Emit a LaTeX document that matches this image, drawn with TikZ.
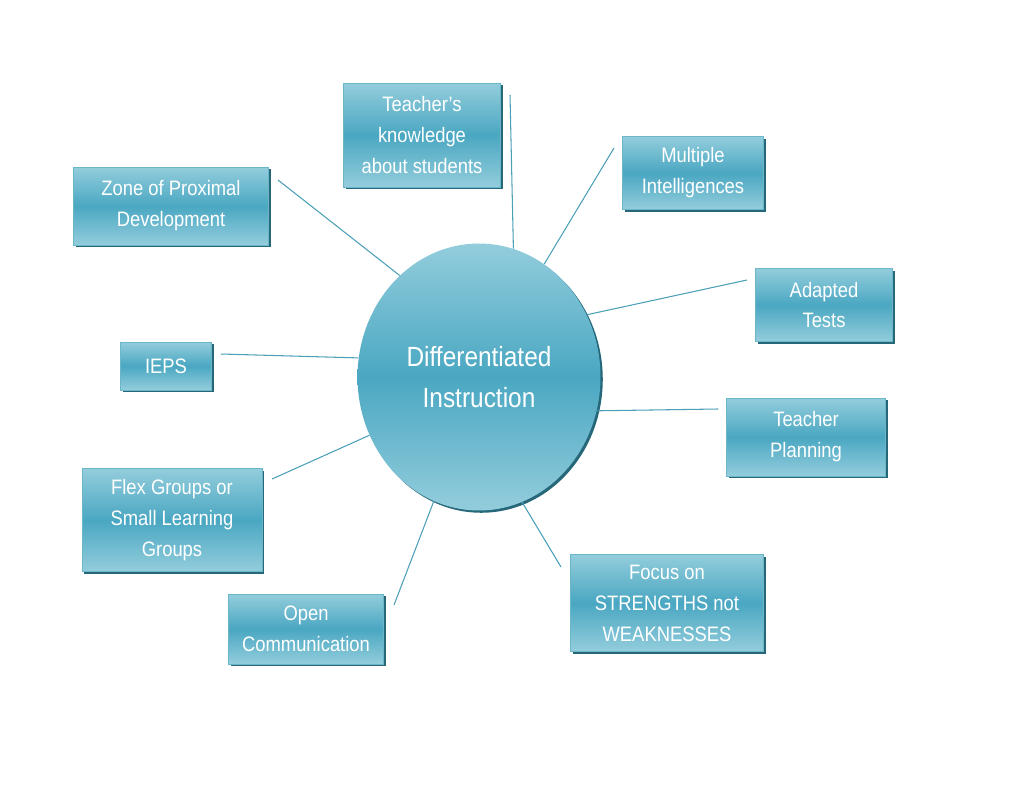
\documentclass[tikz,border=0pt]{standalone}
\usepackage{fontspec}
\setmainfont{Liberation Sans}[FakeStretch=0.88]
\usepackage{tikz}
\usetikzlibrary{positioning,shadows,shapes.geometric}
\definecolor{boxlt}{HTML}{93CDDC}
\definecolor{boxmd}{HTML}{4AA7C2}
\definecolor{boxrim}{HTML}{6CB6CA}
\definecolor{shd}{HTML}{26677A}
\definecolor{lnk}{HTML}{4B9FB7}
\tikzset{
  cbox/.style={rectangle,draw=boxrim,line width=0.5pt,inner sep=2pt,
    top color=boxlt,bottom color=boxlt,middle color=boxmd,
    drop shadow={shadow xshift=1.3pt,shadow yshift=-1.3pt,fill=shd,opacity=1},
    text=white,align=center,font=\fontsize{11.9}{17.6}\selectfont},
  hub/.style={ellipse,inner sep=0pt,
    top color=boxlt,bottom color=boxlt,middle color=boxmd,
    drop shadow={shadow xshift=1.3pt,shadow yshift=-1.3pt,fill=shd,opacity=1},
    text=white,align=center,font=\fontsize{15.8}{23}\selectfont},
  conn/.style={draw=lnk,line width=0.6pt},  % spoke line
}
\begin{document}
\begin{tikzpicture}[x=0.02cm,y=-0.02cm]
  \useasboundingbox (0,0) rectangle (1023,791);
  \node[hub,minimum width=4.86cm,minimum height=5.34cm] (hub) at (479,377)
    {Differentiated\\Instruction};
  % boxes: name/x/y/width/height/text
  \foreach \n/\x/\y/\w/\h/\t in {
      zpd/171/206/195/78/{Zone of Proximal\\Development},
      tk/422/135/157/104/{Teacher’s\\knowledge\\about students},
      mi/693/173/141/73/{Multiple\\Intelligences},
      at/824/305/137/73/{Adapted\\Tests},
      tp/806/437/159/78/{Teacher\\Planning},
      fs/667/603/193/97/{Focus on\\STRENGTHS not\\WEAKNESSES},
      oc/306/629/155/70/{Open\\Communication},
      fg/172/520/180/103/{Flex Groups or\\Small Learning\\Groups},
      ieps/166/366/91/48/{IEPS}}{
    \node[cbox,minimum width=\w*0.02cm,minimum height=\h*0.02cm] (\n) at (\x,\y) {\t};
  }
  % spokes: name/angle on hub/free end
  \foreach \n/\a/\ex/\ey in {zpd/128.2/278/180, tk/75.4/510/95, mi/60/614/148,
      at/30.3/747/280, tp/-16.4/718/409, fs/-71.6/561/567, oc/250.2/394/605,
      fg/208.9/272/479, ieps/171.5/221/354}{
    \coordinate (\n-end) at (\ex,\ey);
    \draw[conn] (\n-end) -- (hub.\a);
  }
\end{tikzpicture}
\end{document}
